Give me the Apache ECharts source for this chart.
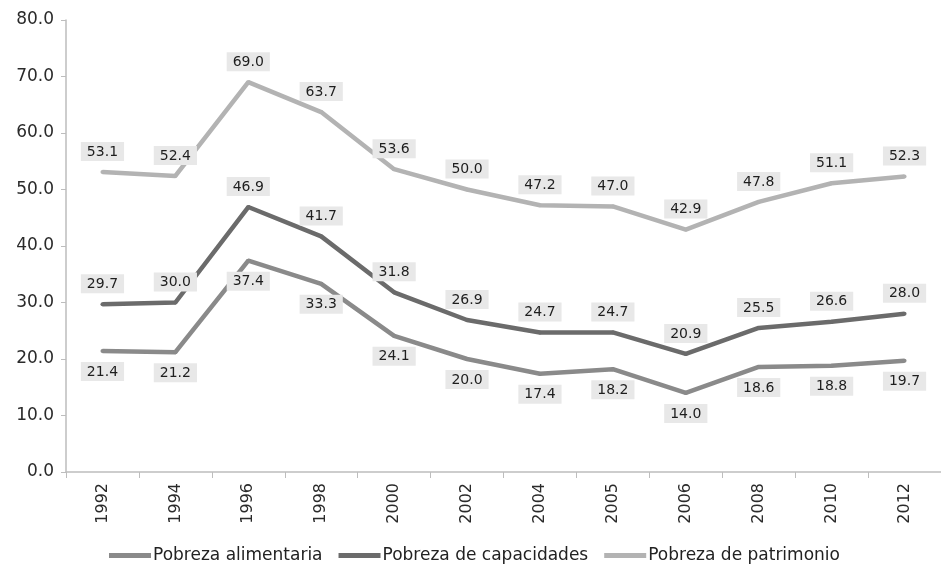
<!DOCTYPE html>
<html>
<head>
<meta charset="utf-8">
<script src="https://cdn.jsdelivr.net/npm/echarts@6/dist/echarts.min.js"></script>
<style>
  html, body { margin: 0; padding: 0; background: #fff; }
  #main { width: 941px; height: 571px; }
</style>
</head>
<body>
<div id="main"></div>
<script>
  // datos
  var years = ['1992', '1994', '1996', '1998', '2000', '2002', '2004', '2005', '2006', '2008', '2010', '2012'];
  var alimentaria = [21.4, 21.2, 37.4, 33.3, 24.1, 20.0, 17.4, 18.2, 14.0, 18.6, 18.8, 19.7];
  var capacidades = [29.7, 30.0, 46.9, 41.7, 31.8, 26.9, 24.7, 24.7, 20.9, 25.5, 26.6, 28.0];
  var patrimonio = [53.1, 52.4, 69.0, 63.7, 53.6, 50.0, 47.2, 47.0, 42.9, 47.8, 51.1, 52.3];
  var seriesNames = ['Pobreza alimentaria', 'Pobreza de capacidades', 'Pobreza de patrimonio'];

  var chart = echarts.init(document.getElementById('main'));
  var font = '"DejaVu Sans", Verdana, sans-serif';

  function lbl(pos) {
    return {
      show: true,
      position: pos,
      distance: 9,
      fontFamily: font,
      fontSize: 14,
      color: '#1e1e1e',
      backgroundColor: '#e8e8e8',
      padding: [3, 6, 2, 6],
      formatter: function (p) { return p.value.toFixed(1); }
    };
  }

  function line(name, data, color, pos) {
    return {
      name: name,
      type: 'line',
      data: data,
      color: color,
      symbol: 'circle',
      symbolSize: 4,
      showSymbol: true,
      lineStyle: { color: color, width: 4.5 },
      itemStyle: { color: color },
      label: lbl(pos),
      labelLayout: { hideOverlap: false },
      animation: false
    };
  }

  chart.setOption({
    grid: { left: 66, right: -13, top: 20, bottom: 99 },
    legend: {
      top: 542,
      left: 104,
      itemWidth: 42,
      itemHeight: 5,
      itemGap: 16,
      icon: 'rect',
      textStyle: { fontFamily: font, fontSize: 17, color: '#222', padding: [0, 0, 0, -3] },
      data: seriesNames
    },
    xAxis: {
      type: 'category',
      data: years,
      boundaryGap: true,
      axisLine: { lineStyle: { color: '#bdbdbd', width: 1.5 } },
      axisTick: { show: true, length: 6, lineStyle: { color: '#bdbdbd' } },
      axisLabel: {
        rotate: 90,
        margin: 11,
        fontFamily: font,
        fontSize: 16,
        color: '#2a2a2a'
      }
    },
    yAxis: {
      type: 'value',
      min: 0,
      max: 80,
      interval: 10,
      axisLine: { show: true, lineStyle: { color: '#bdbdbd', width: 1.5 } },
      axisTick: { show: true, length: 5, lineStyle: { color: '#bdbdbd' } },
      splitLine: { show: false },
      axisLabel: {
        margin: 12,
        fontFamily: font,
        fontSize: 17,
        color: '#2a2a2a',
        formatter: function (v) { return v.toFixed(1); }
      }
    },
    series: [
      line(seriesNames[0], alimentaria, '#8a8a8a', 'bottom'),
      line(seriesNames[1], capacidades, '#6b6b6b', 'top'),
      line(seriesNames[2], patrimonio, '#b3b3b3', 'top')
    ]
  });
</script>
</body>
</html>
